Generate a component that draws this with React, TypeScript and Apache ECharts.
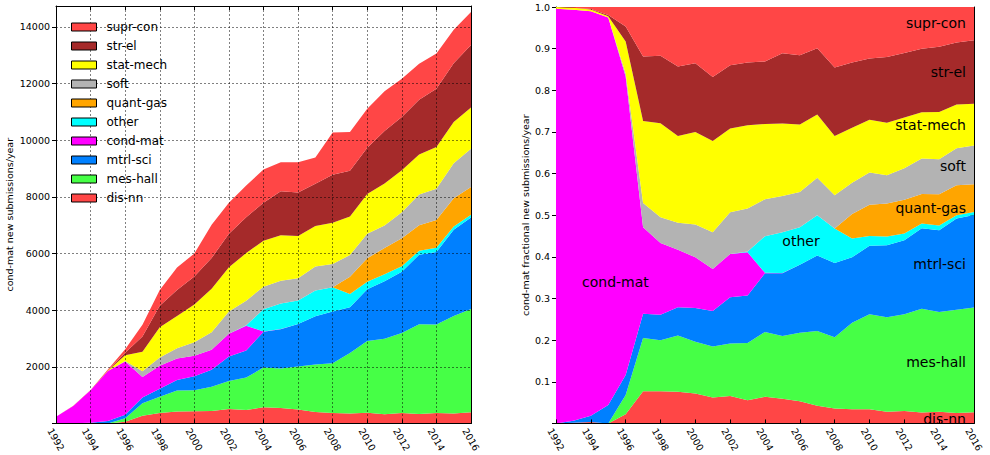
import React, { useEffect, useRef } from 'react';
import * as echarts from 'echarts';

const years = ['1992', '1993', '1994', '1995', '1996', '1997', '1998', '1999', '2000', '2001', '2002', '2003', '2004', '2005', '2006', '2007', '2008', '2009', '2010', '2011', '2012', '2013', '2014', '2015', '2016'];

const seriesNames = ['dis-nn', 'mes-hall', 'mtrl-sci', 'cond-mat', 'other', 'quant-gas', 'soft', 'stat-mech', 'str-el', 'supr-con'];
const seriesColors = ['#ff4646', '#46ff46', '#0080ff', '#ff00ff', '#00ffff', '#ffa500', '#b3b3b3', '#ffff00', '#a52a2a', '#ff4646'];

const disNn = [0, 1, 4, 0, 58, 270, 365, 418, 432, 439, 514, 470, 573, 544, 494, 400, 370, 350, 379, 328, 364, 331, 366, 348, 393];
const mesHall = [0, 0, 0, 0, 121, 444, 577, 743, 744, 860, 982, 1151, 1398, 1392, 1516, 1685, 1756, 2140, 2531, 2663, 2829, 3170, 3126, 3447, 3650];
const mtrlSci = [0, 3, 18, 84, 126, 202, 287, 374, 486, 597, 865, 958, 1263, 1392, 1503, 1700, 1828, 1616, 1829, 2029, 2161, 2457, 2564, 3044, 3228];
const condMat = [239, 612, 1147, 1769, 1879, 724, 810, 759, 732, 709, 810, 874, 10, 5, 0, 0, 0, 0, 0, 0, 0, 0, 0, 0, 0];
const other = [0, 0, 0, 0, 0, 0, 0, 0, 0, 0, 0, 17, 788, 904, 830, 911, 852, 463, 260, 246, 200, 140, 150, 111, 102];
const quantGas = [0, 0, 0, 0, 0, 0, 0, 0, 0, 0, 0, 0, 0, 0, 0, 0, 0, 607, 836, 927, 983, 904, 981, 1001, 974];
const soft = [0, 0, 0, 0, 18, 202, 292, 358, 474, 618, 779, 865, 797, 802, 784, 845, 822, 772, 859, 798, 923, 1082, 1099, 1236, 1352];
const statMech = [1, 3, 5, 6, 202, 686, 1064, 1144, 1332, 1537, 1566, 1680, 1622, 1604, 1494, 1427, 1458, 1358, 1405, 1478, 1481, 1413, 1478, 1460, 1454];
const strEl = [0, 0, 1, 6, 94, 539, 763, 919, 990, 1081, 1184, 1268, 1344, 1558, 1531, 1493, 1695, 1616, 1639, 1853, 1882, 1935, 2054, 2071, 2210];
const suprCon = [0, 1, 6, 36, 123, 414, 551, 787, 810, 1179, 1091, 1117, 1174, 1023, 1070, 930, 1489, 1369, 1371, 1408, 1348, 1273, 1243, 1182, 1163];

const seriesValues = [disNn, mesHall, mtrlSci, condMat, other, quantGas, soft, statMech, strEl, suprCon];

const leftYTicks = { min: 0, max: 14740, interval: 2000 };
const rightYTicks = { min: 0, max: 1, interval: 0.1 };

const FONT = 'DejaVu Sans';

export default function App() {
  const ref = useRef<HTMLDivElement>(null);
  useEffect(() => {
    document.body.style.margin = '0';
    const chart = echarts.init(ref.current!, undefined, { renderer: 'svg' });

    const totals = years.map((_, i) => seriesValues.reduce((s, arr) => s + arr[i], 0));
    const fractions = seriesValues.map((arr) => arr.map((v, i) => (totals[i] ? v / totals[i] : 0)));

    const axisLine = { show: true, onZero: false, lineStyle: { color: '#000', width: 1 } };
    const tickStyle = { show: true, inside: true, length: 4, lineStyle: { color: '#000', width: 1 } };
    const outTickStyle = { show: true, inside: false, length: 4, lineStyle: { color: '#000', width: 1 } };
    const labelStyle = { color: '#000', fontSize: 9.5, fontFamily: FONT };

    const xBottom = (gridIndex: number, withGrid: boolean) => ({
      type: 'category',
      gridIndex,
      data: years,
      boundaryGap: false,
      position: 'bottom',
      z: withGrid ? 5 : 2,
      axisLine,
      axisTick: { ...tickStyle, interval: 1 },
      axisLabel: {
        ...labelStyle,
        interval: 1,
        rotate: -60,
        align: 'center',
        verticalAlign: 'middle',
        margin: 16,
      },
      splitLine: withGrid
        ? { show: true, interval: 1, lineStyle: { color: '#000', width: 0.5, type: [2, 2] } }
        : { show: false },
    });
    const xTop = (gridIndex: number) => ({
      type: 'category',
      gridIndex,
      data: years,
      boundaryGap: false,
      position: 'top',
      axisLine,
      axisTick: { ...tickStyle, interval: 1 },
      axisLabel: { show: false },
      splitLine: { show: false },
    });

    const option: any = {
      animation: false,
      textStyle: { fontFamily: FONT },
      grid: [
        { left: 56, top: 6, width: 415, height: 419, containLabel: false },
        { left: 556, top: 7, width: 418, height: 418, containLabel: false },
      ],
      legend: {
        orient: 'vertical',
        left: 66,
        top: 16,
        z: 10,
        itemWidth: 25,
        itemHeight: 8,
        itemGap: 7,
        icon: 'rect',
        selectedMode: false,
        itemStyle: { borderColor: '#000', borderWidth: 1, borderType: 'solid', decal: 'none' },
        lineStyle: { width: 0 },
        textStyle: { color: '#000', fontSize: 12, fontFamily: FONT, lineHeight: 12, padding: [0, 0, 0, 5] },
        data: [...seriesNames].reverse(),
      },
      xAxis: [xBottom(0, true), xTop(0), xBottom(1, false), xTop(1)],
      yAxis: [
        {
          type: 'value',
          gridIndex: 0,
          ...leftYTicks,
          z: 5,
          name: 'cond-mat new submissions/year',
          nameLocation: 'middle',
          nameGap: 42,
          nameTextStyle: { color: '#000', fontSize: 9.5, fontFamily: FONT },
          axisLine,
          axisTick: outTickStyle,
          axisLabel: {
            ...labelStyle,
            margin: 6,
            showMaxLabel: false,
            formatter: (v: number) => (v === 0 || v % 2000 !== 0 ? '' : String(v)),
          },
          splitLine: { show: true, lineStyle: { color: '#000', width: 0.5, type: [2, 2] } },
        },
        {
          type: 'value',
          gridIndex: 0,
          ...leftYTicks,
          position: 'right',
          axisLine,
          axisTick: tickStyle,
          axisLabel: { show: false },
          splitLine: { show: false },
        },
        {
          type: 'value',
          gridIndex: 1,
          ...rightYTicks,
          name: 'cond-mat fractional new submissions/year',
          nameLocation: 'middle',
          nameGap: 26,
          nameTextStyle: { color: '#000', fontSize: 9.5, fontFamily: FONT },
          axisLine,
          axisTick: outTickStyle,
          axisLabel: {
            ...labelStyle,
            margin: 6,
            formatter: (v: number) => (v === 0 ? '' : v.toFixed(1)),
          },
          splitLine: { show: false },
        },
        {
          type: 'value',
          gridIndex: 1,
          ...rightYTicks,
          position: 'right',
          axisLine,
          axisTick: tickStyle,
          axisLabel: { show: false },
          splitLine: { show: false },
        },
      ],
      series: [
        ...seriesNames.map((name, k) => ({
          name,
          type: 'line',
          xAxisIndex: 0,
          yAxisIndex: 0,
          stack: 'abs',
          data: seriesValues[k],
          color: seriesColors[k],
          showSymbol: false,
          symbol: 'none',
          lineStyle: { width: 0 },
          areaStyle: { color: seriesColors[k], opacity: 1 },
          emphasis: { disabled: true },
          z: 2,
        })),
        ...seriesNames.map((name, k) => ({
          name,
          type: 'line',
          xAxisIndex: 2,
          yAxisIndex: 2,
          stack: 'frac',
          data: fractions[k],
          color: seriesColors[k],
          showSymbol: false,
          symbol: 'none',
          lineStyle: { width: 0 },
          areaStyle: { color: seriesColors[k], opacity: 1 },
          emphasis: { disabled: true },
          z: 2,
        })),
      ],
      graphic: [
        { label: 'supr-con', x: 966, y: 23, align: 'right' },
        { label: 'str-el', x: 966, y: 72, align: 'right' },
        { label: 'stat-mech', x: 966, y: 125, align: 'right' },
        { label: 'soft', x: 966, y: 166, align: 'right' },
        { label: 'quant-gas', x: 966, y: 208, align: 'right' },
        { label: 'other', x: 801, y: 241, align: 'center' },
        { label: 'mtrl-sci', x: 966, y: 264, align: 'right' },
        { label: 'cond-mat', x: 582, y: 282, align: 'left' },
        { label: 'mes-hall', x: 966, y: 362, align: 'right' },
        { label: 'dis-nn', x: 966, y: 419, align: 'right' },
      ].map((t) => ({
        type: 'text',
        x: t.x,
        y: t.y,
        z: 100,
        silent: true,
        style: {
          text: t.label,
          fill: '#000',
          fontSize: 14,
          fontFamily: FONT,
          align: t.align,
          verticalAlign: 'middle',
        },
      })),
    };

    chart.setOption(option);
    return () => chart.dispose();
  }, []);
  return <div ref={ref} style={{ width: 990, height: 455 }} />;
}
